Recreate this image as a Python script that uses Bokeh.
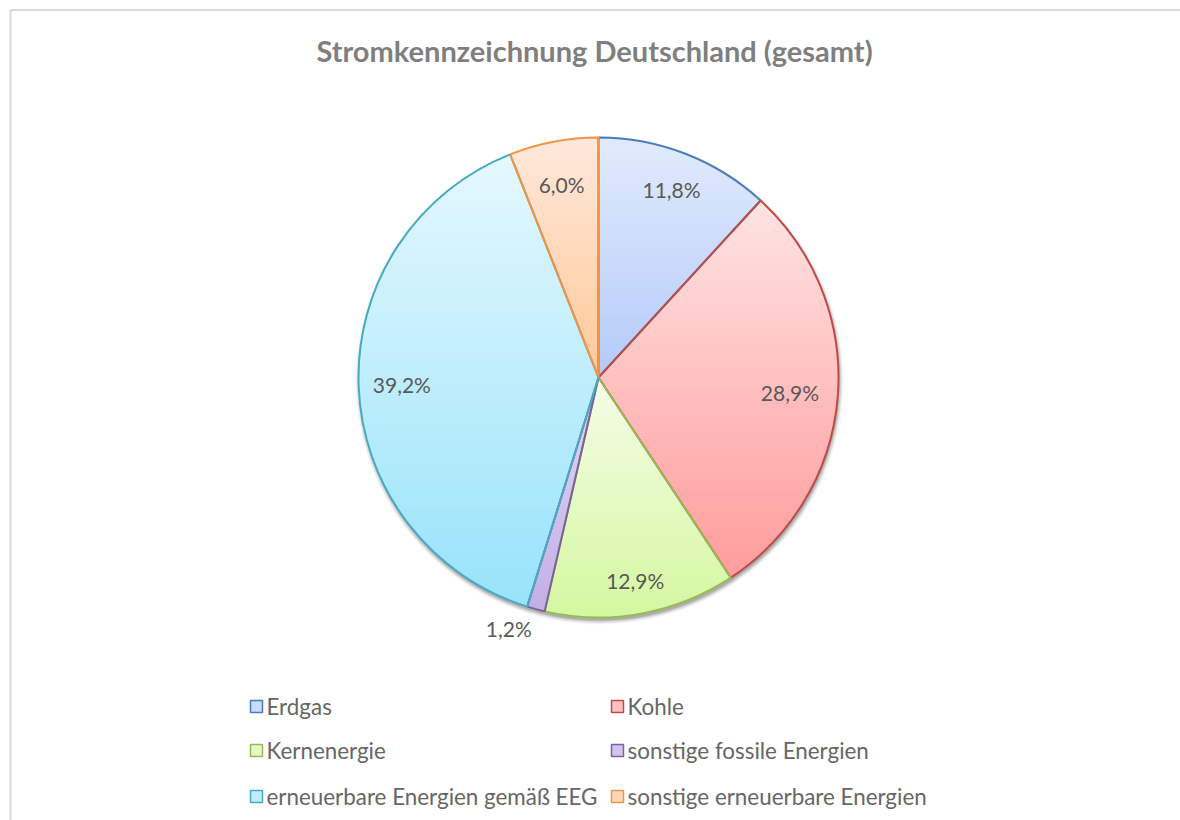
import numpy as np
from bokeh.plotting import figure
from bokeh.models import Range1d
from bokeh.core.properties import value
from bokeh.embed import file_html
from bokeh.resources import INLINE

# ---------------- data ----------------
title = "Stromkennzeichnung Deutschland (gesamt)"
categories = ["Erdgas", "Kohle", "Kernenergie", "sonstige fossile Energien",
              "erneuerbare Energien gemäß EEG", "sonstige erneuerbare Energien"]
shares = [11.8, 28.9, 12.9, 1.2, 39.2, 6.0]

# ---------------- styles ----------------
top_colors = ["#e2ebfd", "#ffe3e3", "#f4fde8", "#e2d8f2", "#e5f8fe", "#ffe9db"]
bot_colors = ["#b3caf8", "#ff9c9c", "#d5f7a0", "#c2afe6", "#98e3fa", "#ffc898"]
line_colors = ["#4a7ebb", "#be4b48", "#98b954", "#7d60a0", "#46aac5", "#f69240"]
label_r = [0.84, 0.80, 0.86, 1.13, 0.82, 0.82]
label_dx = [0, 0, 0, -19, 0, 0]
label_dy = [0, 0, 0, 11, 0, 0]

W, H = 1180, 820
FONT = "Lato"


def X(px):  # page x -> data x
    return px


def Y(py):  # page y -> data y
    return H - py


cx, cy, R = X(598), Y(377), 240

p = figure(width=W, height=H, output_backend="svg", toolbar_location=None,
           x_range=Range1d(0, W), y_range=Range1d(0, H), min_border=0)
p.axis.visible = False
p.grid.visible = False
p.outline_line_color = None
p.border_fill_color = "white"
p.background_fill_color = "white"

# chart border (left and top visible)
p.line([X(10), X(10)], [Y(9.5), 0], line_color="#d9d9d9", line_width=2)
p.line([X(10), W], [Y(9.5), Y(9.5)], line_color="#d9d9d9", line_width=2)

# title
p.text(x=[X(594)], y=[Y(50)], text=[title], text_align="center", text_baseline="middle",
       text_font=value(FONT), text_font_style="bold", text_font_size="29px",
       text_color="#7f7f7f")

# shadow
for k, a in zip([4, 3, 2, 1, 0], [0.03, 0.05, 0.07, 0.09, 0.12]):
    p.circle(x=[cx + 1], y=[cy - 3], radius=R + k, fill_color="black", fill_alpha=a,
             line_color=None)


def hex2rgb(h):
    h = h.lstrip("#")
    return np.array([int(h[i:i + 2], 16) for i in (0, 2, 4)], dtype=float)


def rgb2hex(c):
    c = np.clip(np.round(c), 0, 255).astype(int)
    return "#%02x%02x%02x" % tuple(c)


def clip_half(pts, keep, ylim):
    out = []
    n = len(pts)
    for i in range(n):
        P, Q = pts[i], pts[(i + 1) % n]
        pin, qin = keep(P[1]), keep(Q[1])
        if pin:
            out.append(P)
        if pin != qin:
            t = (ylim - P[1]) / (Q[1] - P[1])
            out.append((P[0] + t * (Q[0] - P[0]), ylim))
    return out


# wedges
starts, ends = [], []
a = 90.0
for s in shares:
    starts.append(a)
    a -= s * 3.6
    ends.append(a)

band_xs, band_ys, band_cols = [], [], []
for i, s in enumerate(shares):
    a0, a1 = starts[i], ends[i]
    nseg = max(4, int(abs(a0 - a1) * 2))
    angs = np.radians(np.linspace(a0, a1, nseg + 1))
    poly = [(cx, cy)] + [(cx + R * np.cos(t), cy + R * np.sin(t)) for t in angs]
    ymin = min(q[1] for q in poly)
    ymax = max(q[1] for q in poly)
    c0, c1 = hex2rgb(top_colors[i]), hex2rgb(bot_colors[i])
    step = 3.0
    yb = ymax
    while yb > ymin:
        ya = max(ymin, yb - step)
        pts = clip_half(poly, lambda y, lim=ya: y >= lim, ya)
        if pts:
            pts = clip_half(pts, lambda y, lim=yb: y <= lim, yb)
        if len(pts) >= 3:
            t = ((ymax - (ya + yb) / 2) / (ymax - ymin)) if ymax > ymin else 0
            col = rgb2hex(c0 * (1 - t) + c1 * t)
            band_xs.append([q[0] for q in pts])
            band_ys.append([q[1] for q in pts])
            band_cols.append(col)
        yb = ya

p.patches(xs=band_xs, ys=band_ys, fill_color=band_cols, line_color=band_cols, line_width=1)

for i in range(len(shares)):
    p.wedge(x=cx, y=cy, radius=R, start_angle=np.radians(starts[i]),
            end_angle=np.radians(ends[i]), direction="clock",
            fill_alpha=0, line_color=line_colors[i], line_width=2)

# data labels
lx, ly, lt = [], [], []
for i, s in enumerate(shares):
    mid = np.radians((starts[i] + ends[i]) / 2)
    lx.append(cx + label_r[i] * R * np.cos(mid) + label_dx[i])
    ly.append(cy + label_r[i] * R * np.sin(mid) + label_dy[i])
    lt.append(f"{s:.1f}".replace(".", ",") + "%")
p.text(x=lx, y=ly, text=lt, text_align="center", text_baseline="middle",
       text_font=value(FONT), text_font_size="21px", text_color="#595959")

# legend
col_x = [X(256), X(617)]
row_y = [Y(706), Y(750), Y(796)]
mx, my, mfill, mline, tx, ty = [], [], [], [], [], []
for i, name in enumerate(categories):
    c = col_x[i % 2]
    r = row_y[i // 2]
    mx.append(c)
    my.append(r)
    mfill.append(rgb2hex((hex2rgb(top_colors[i]) + hex2rgb(bot_colors[i])) / 2))
    mline.append(line_colors[i])
    tx.append(c + 10)
    ty.append(r)
p.rect(x=mx, y=my, width=12, height=12, fill_color=mfill, line_color=mline, line_width=1.5)
p.text(x=tx, y=ty, text=categories, text_align="left", text_baseline="middle",
       text_font=value(FONT), text_font_size="22.4px", text_color="#666666")

open("out.html", "w").write(file_html(p, INLINE))
